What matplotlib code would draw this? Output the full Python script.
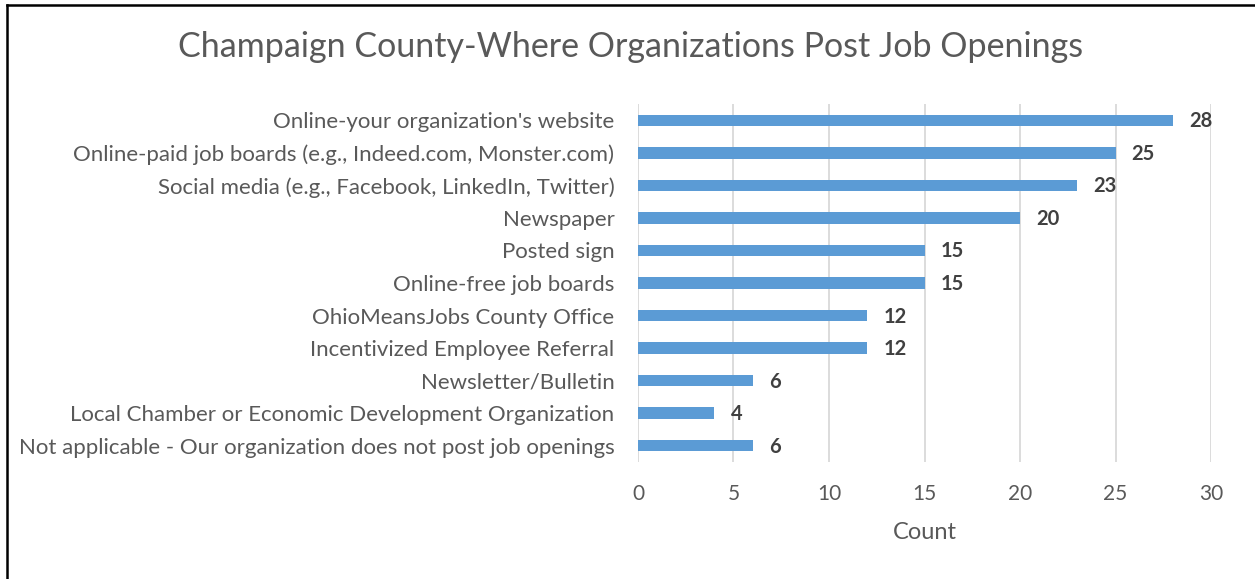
import matplotlib.pyplot as plt
from matplotlib.lines import Line2D

categories = [
    "Online-your organization's website",
    "Online-paid job boards (e.g., Indeed.com, Monster.com)",
    "Social media (e.g., Facebook, LinkedIn, Twitter)",
    "Newspaper",
    "Posted sign",
    "Online-free job boards",
    "OhioMeansJobs County Office",
    "Incentivized Employee Referral",
    "Newsletter/Bulletin",
    "Local Chamber or Economic Development Organization",
    "Not applicable - Our organization does not post job openings",
]
counts = [28, 25, 23, 20, 15, 15, 12, 12, 6, 4, 6]
x_ticks = [0, 5, 10, 15, 20, 25, 30]

FONT = ["Lato", "DejaVu Sans"]
TEXT = "#595959"
BAR = "#5B9BD5"

fig = plt.figure(figsize=(12.55, 5.79), dpi=100)
ax = fig.add_axes([638 / 1255, 1 - 462 / 579, 573 / 1255, 358 / 579])

pos = list(range(len(categories)))
ax.barh(pos, counts, height=0.35, color=BAR, zorder=3)
ax.set_ylim(len(categories) - 0.5, -0.5)
ax.set_xlim(0, 30)

for p, v in zip(pos, counts):
    ax.text(v + 0.85, p + 0.03, str(v), va="center", ha="left", fontsize=14.5,
            fontweight="bold", color="#404040", family=FONT)

ax.set_xticks(x_ticks)
ax.set_xticklabels([str(t) for t in x_ticks], family=FONT, fontsize=15, color=TEXT)
ax.set_yticks(pos)
ax.set_yticklabels(categories, family=FONT, fontsize=16, color=TEXT)
ax.tick_params(axis="both", length=0)
ax.tick_params(axis="x", pad=16)
ax.tick_params(axis="y", pad=17)
ax.grid(axis="x", color="#D9D9D9", linewidth=1.3, zorder=0)
for s in ax.spines.values():
    s.set_visible(False)

ax.set_xlabel("Count", family=FONT, fontsize=17, color=TEXT, labelpad=13)

fig.text(631 / 1255, 1 - 47 / 579, "Champaign County-Where Organizations Post Job Openings",
         ha="center", va="center", fontsize=24.5, color=TEXT, family=FONT)

# frame lines along the left and top edges
fig.add_artist(Line2D([7 / 1255, 7 / 1255], [0, 1 - 5 / 579], transform=fig.transFigure,
                      color="black", linewidth=1.8))
fig.add_artist(Line2D([7 / 1255, 1], [1 - 5 / 579, 1 - 5 / 579], transform=fig.transFigure,
                      color="black", linewidth=1.8))

fig.savefig("out.png", dpi=100)
